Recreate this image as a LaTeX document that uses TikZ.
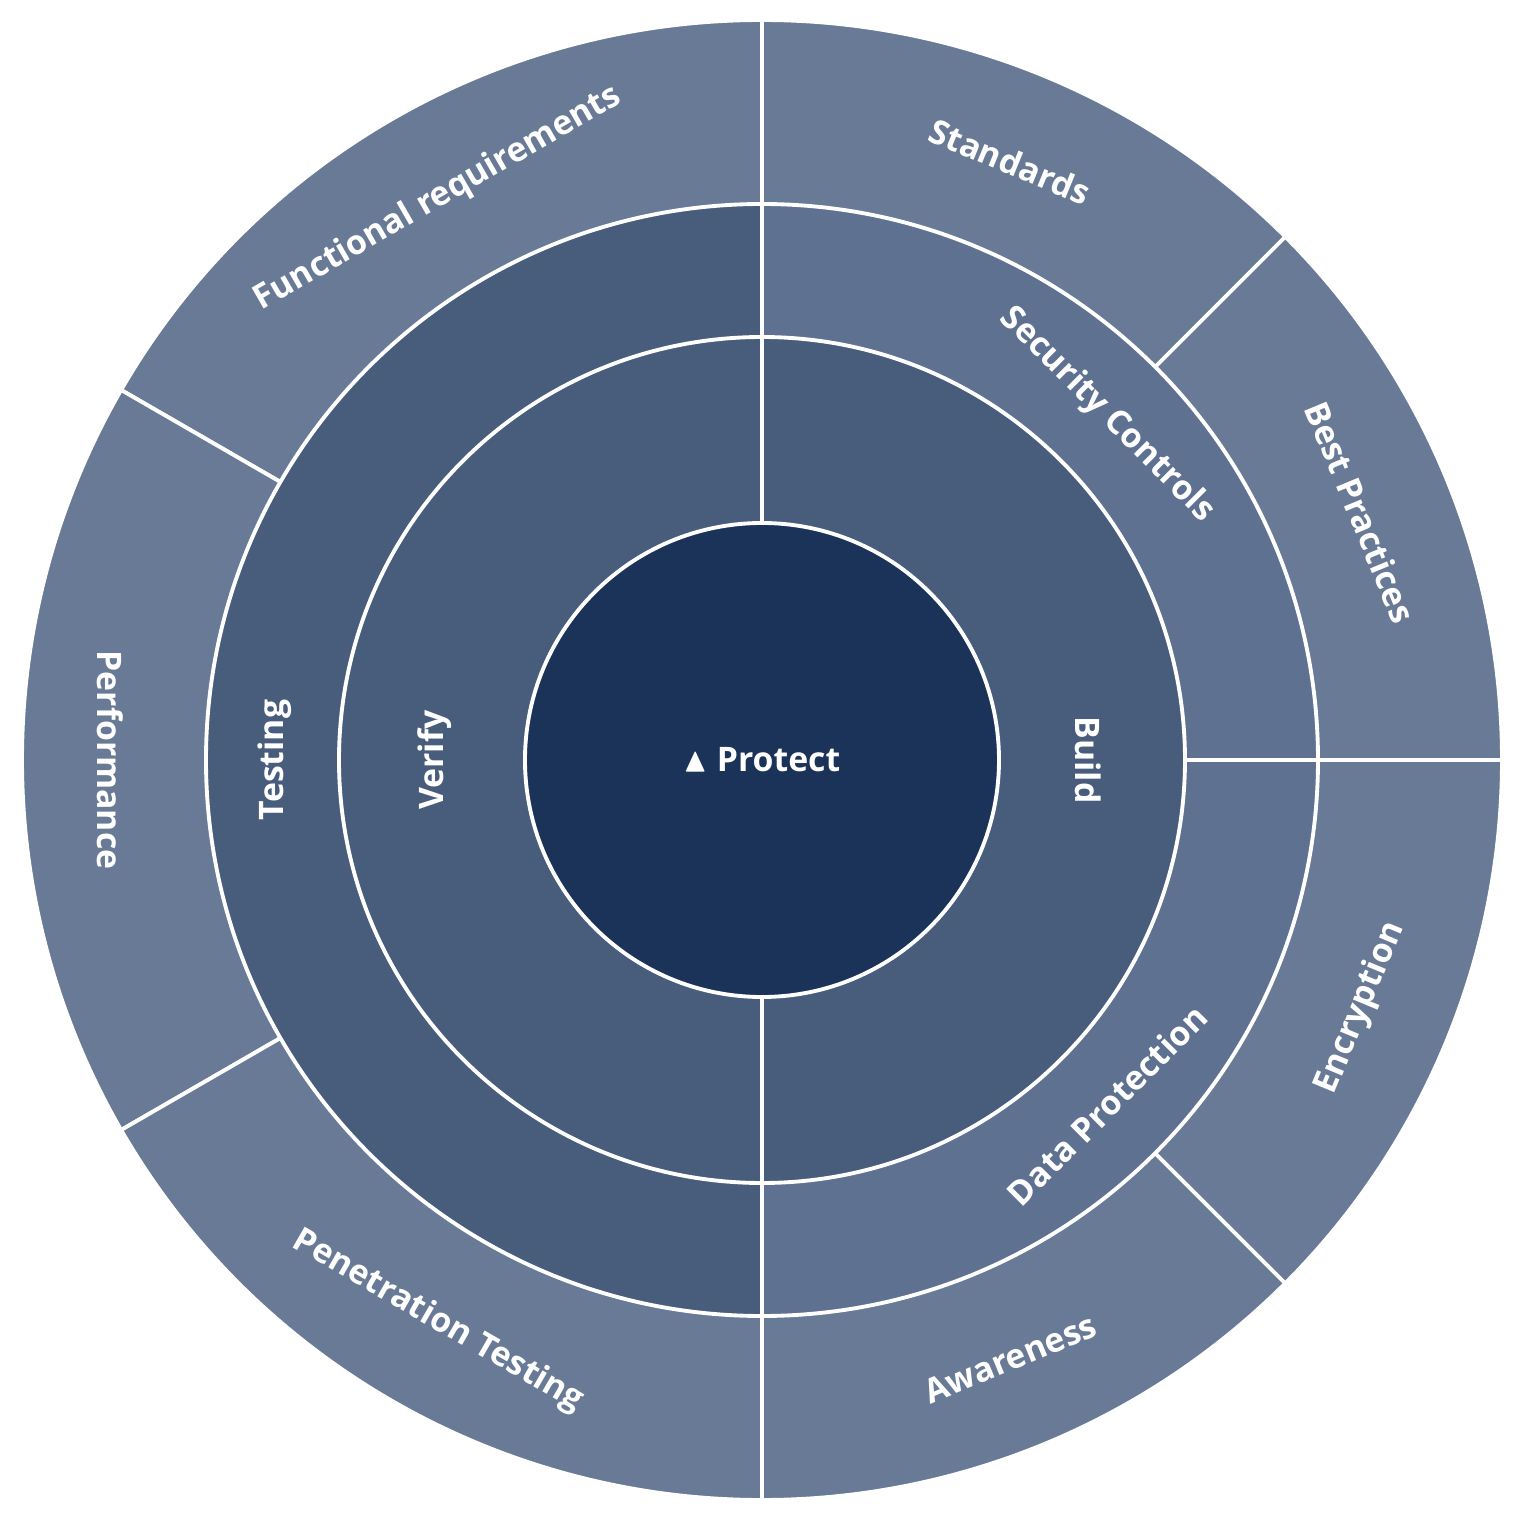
\documentclass[tikz,border=0pt]{standalone}
\usepackage{fontspec}
\setmainfont{Open Sans}
\usepackage{amssymb}
\begin{document}
\begin{tikzpicture}[x=0.01cm,y=0.01cm,
  sec/.style={draw=white,line width=1.1pt},
  lab/.style={text=white,font=\fontsize{9.6}{11.5}\selectfont\bfseries}]
\definecolor{cC}{HTML}{1B3358}
\definecolor{cR2}{HTML}{485C7B}
\definecolor{cR3}{HTML}{5F7191}
\definecolor{cO}{HTML}{687A96}
\useasboundingbox (-762,-764) rectangle (762,760);
% outer ring
\foreach \a/\b in {90/150,150/210,210/270,270/315,315/360,0/45,45/90}
  \filldraw[sec,fill=cO] (0,0) -- (\a:740) arc (\a:\b:740) -- cycle;
% ring 3
\filldraw[sec,fill=cR2] (0,0) -- (90:556) arc (90:270:556) -- cycle;
\filldraw[sec,fill=cR3] (0,0) -- (0:556) arc (0:90:556) -- cycle;
\filldraw[sec,fill=cR3] (0,0) -- (-90:556) arc (-90:0:556) -- cycle;
% ring 2
\filldraw[sec,fill=cR2] (0,0) -- (90:423) arc (90:270:423) -- cycle;
\filldraw[sec,fill=cR2] (0,0) -- (-90:423) arc (-90:90:423) -- cycle;
% center
\filldraw[sec,fill=cC] (0,0) circle (237);
\node[lab] (p) at (0,0) {$\blacktriangle$ Protect};
% labels
\node[lab,rotate=30] (fr) at (120:648) {Functional requirements};
\node[lab,rotate=-90] (pf) at (180:652) {Performance};
\node[lab,rotate=-30] (pt) at (240:648) {Penetration Testing};
\node[lab,rotate=22.5] (aw) at (-67.5:648) {Awareness};
\node[lab,rotate=67.5] (en) at (-22.5:648) {Encryption};
\node[lab,rotate=-67.5] (bp) at (22.5:648) {Best Practices};
\node[lab,rotate=-22.5] (st) at (67.5:648) {Standards};
\node[lab,rotate=90] (te) at (180:487) {Testing};
\node[lab,rotate=-45] (sc) at (45:488) {Security Controls};
\node[lab,rotate=45] (dp) at (-45:488) {Data Protection};
\node[lab,rotate=90] (ve) at (180:327) {Verify};
\node[lab,rotate=-90] (bu) at (0:326) {Build};
\end{tikzpicture}
\end{document}
